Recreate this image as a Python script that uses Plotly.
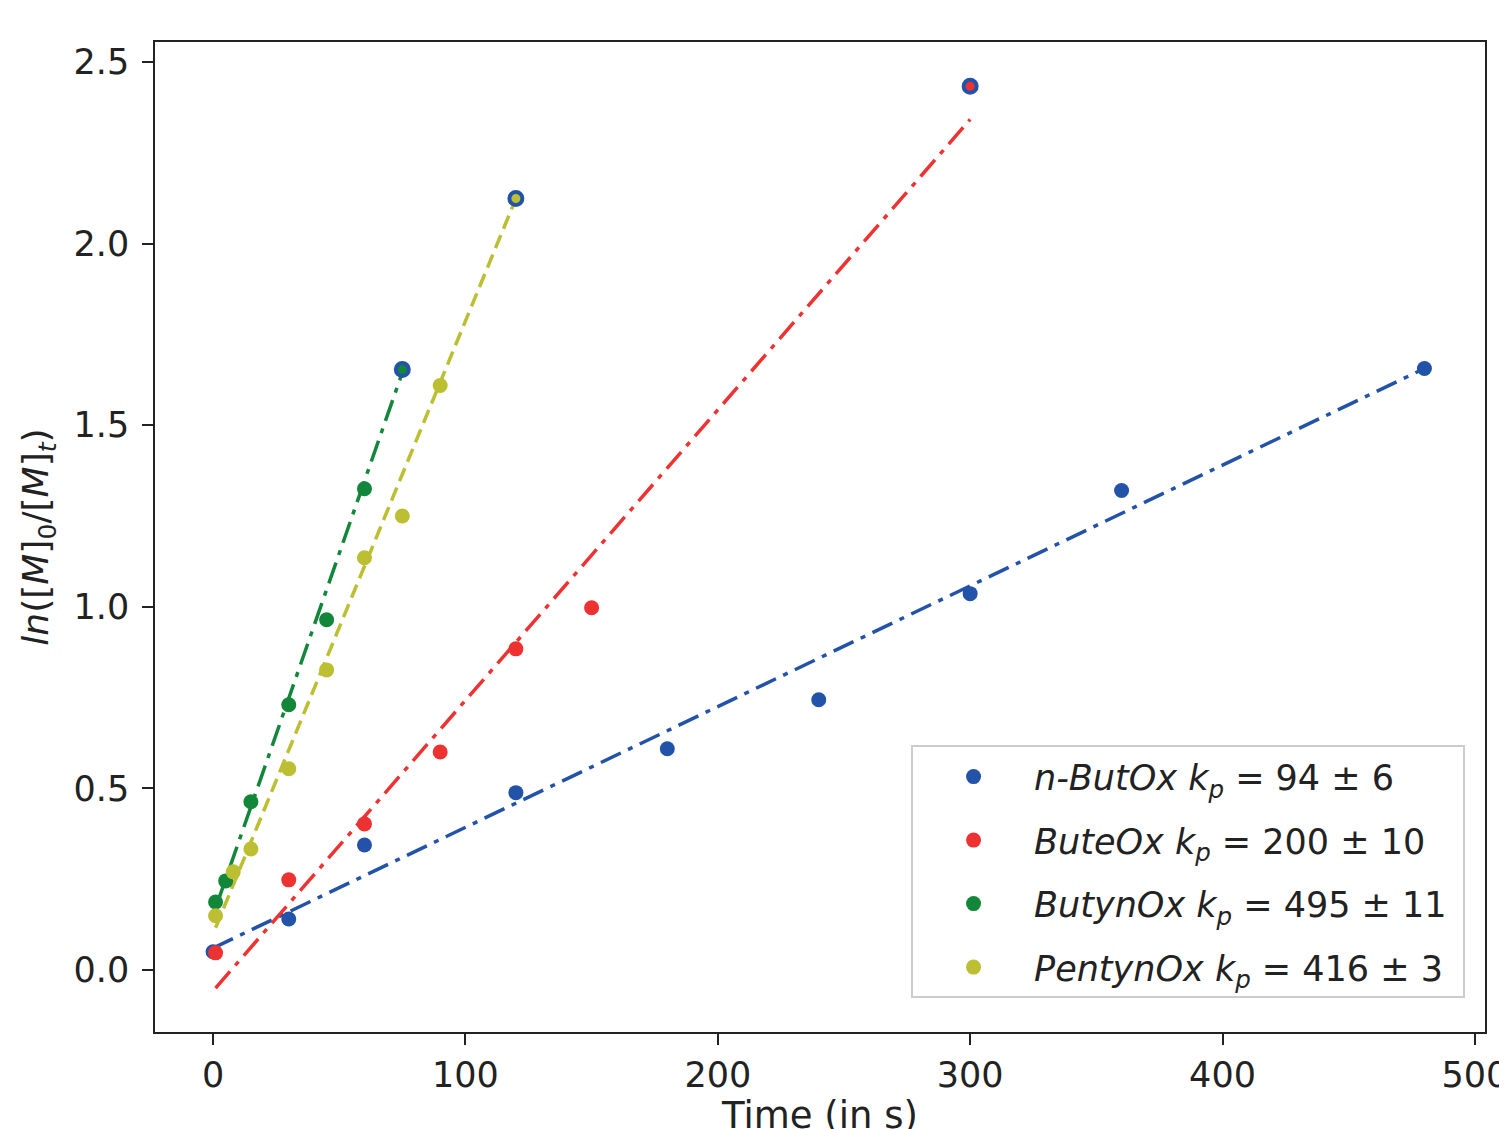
import plotly.graph_objects as go

# ---- data ----
butox_t = [0, 30, 60, 120, 180, 240, 300, 360, 480]
butox_y = [0.05, 0.14, 0.344, 0.488, 0.609, 0.744, 1.036, 1.32, 1.656]
butox_fit_t = [0, 480]
butox_fit_y = [0.06, 1.656]

buteox_t = [1, 30, 60, 90, 120, 150]
buteox_y = [0.047, 0.248, 0.402, 0.60, 0.884, 0.997]
buteox_end_t = [300]
buteox_end_y = [2.433]
buteox_fit_t = [1, 300]
buteox_fit_y = [-0.05, 2.342]

butynox_t = [1, 5, 15, 30, 45, 60]
butynox_y = [0.187, 0.245, 0.463, 0.73, 0.964, 1.325]
butynox_end_t = [75]
butynox_end_y = [1.653]
butynox_fit_t = [1, 75]
butynox_fit_y = [0.17, 1.645]

pentynox_t = [1, 8, 15, 30, 45, 60, 75, 90]
pentynox_y = [0.149, 0.27, 0.333, 0.554, 0.826, 1.135, 1.25, 1.609]
pentynox_end_t = [120]
pentynox_end_y = [2.124]
pentynox_fit_t = [1, 120]
pentynox_fit_y = [0.116, 2.124]

labels = [
    "<i>n-ButOx k<sub>p</sub></i> = 94 ± 6\u00a0",
    "<i>ButeOx k<sub>p</sub></i> = 200 ± 10\u00a0",
    "<i>ButynOx k<sub>p</sub></i> = 495 ± 11\u00a0",
    "<i>PentynOx k<sub>p</sub></i> = 416 ± 3\u00a0",
]
x_ticks = [0, 100, 200, 300, 400, 500]
y_ticks = [0.0, 0.5, 1.0, 1.5, 2.0, 2.5]

BLUE = "#2353A8"
RED = "#EE3231"
GREEN = "#12873A"
YELLOW = "#BBBF31"
FONT = "DejaVu Sans"
MS = 15
DASHDOT = "22px,8px,5px,8px"
DASHED = "14px,7px"

fig = go.Figure()

# fit lines
fits = [
    (butox_fit_t, butox_fit_y, BLUE, DASHDOT),
    (buteox_fit_t, buteox_fit_y, RED, DASHDOT),
    (butynox_fit_t, butynox_fit_y, GREEN, DASHDOT),
    (pentynox_fit_t, pentynox_fit_y, YELLOW, DASHED),
]
for t, y, c, d in fits:
    fig.add_trace(go.Scatter(x=t, y=y, mode="lines", showlegend=False,
                             line=dict(color=c, width=3.5, dash=d), hoverinfo="skip"))

# data points
series = [
    (butox_t, butox_y, BLUE, labels[0]),
    (buteox_t, buteox_y, RED, labels[1]),
    (butynox_t, butynox_y, GREEN, labels[2]),
    (pentynox_t, pentynox_y, YELLOW, labels[3]),
]
for i, (t, y, c, lab) in enumerate(series):
    fig.add_trace(go.Scatter(x=t, y=y, mode="markers", name=lab, legendgroup=f"g{i}",
                             marker=dict(color=c, size=MS, line=dict(width=0))))

# end points with blue ring
ends = [
    (buteox_end_t, buteox_end_y, RED),
    (butynox_end_t, butynox_end_y, GREEN),
    (pentynox_end_t, pentynox_end_y, YELLOW),
]
for t, y, c in ends:
    fig.add_trace(go.Scatter(x=t, y=y, mode="markers", showlegend=False,
                             marker=dict(color=c, size=13, line=dict(color=BLUE, width=4))))

axis_common = dict(
    showgrid=False, zeroline=False, showline=True, mirror=True,
    linecolor="#222222", linewidth=1.5,
    ticks="outside", ticklen=11, tickwidth=1.5, tickcolor="#222222",
    tickfont=dict(family=FONT, size=35, color="#222222"),
)

fig.update_layout(
    width=1507, height=1129,
    margin=dict(l=147, r=30, t=34, b=105, autoexpand=False),
    paper_bgcolor="white", plot_bgcolor="white",
    font=dict(family=FONT, color="#222222"),
    xaxis=dict(range=[-23, 504], tickvals=x_ticks, ticktext=[str(v) for v in x_ticks],
               title=dict(text="Time (in s)", font=dict(family=FONT, size=37), standoff=14),
               **axis_common),
    yaxis=dict(range=[-0.171, 2.555], tickvals=y_ticks, ticktext=[f"{v:.1f}" for v in y_ticks],
               ticklabelstandoff=6,
               title=dict(text="<i>ln</i>([<i>M</i>]<sub>0</sub>/[<i>M</i>]<sub><i>t</i></sub>)",
                          font=dict(family=FONT, size=36), standoff=14),
               **axis_common),
    legend=dict(
        x=0.985, y=0.034, xanchor="right", yanchor="bottom",
        bgcolor="white", bordercolor="#CCCCCC", borderwidth=2,
        font=dict(family=FONT, size=35, color="#222222"),
        itemwidth=111, tracegroupgap=15,
    ),
)

fig.write_html("out.html")
